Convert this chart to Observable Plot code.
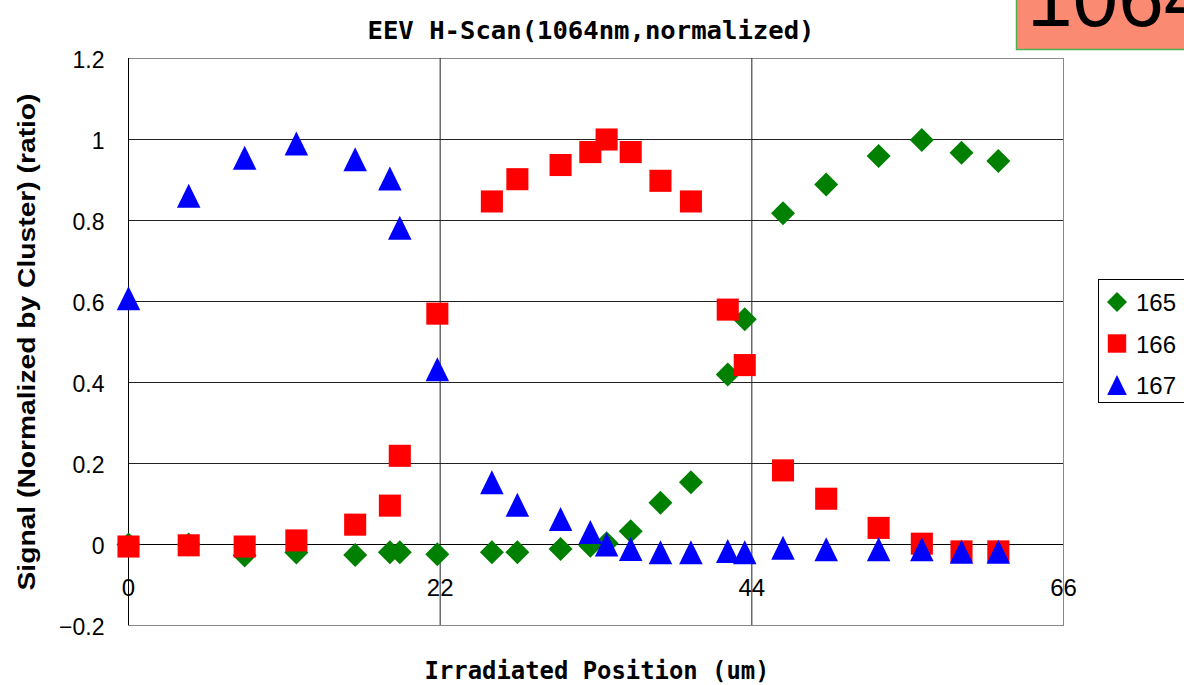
<!DOCTYPE html>
<html><head><meta charset="utf-8">
<script src="https://cdn.jsdelivr.net/npm/d3@7"></script>
<script src="https://cdn.jsdelivr.net/npm/@observablehq/plot@0.6"></script>
<style>
html,body{margin:0;padding:0;background:#fff;}
#wrap{position:relative;width:1184px;height:685px;overflow:hidden;}
</style></head><body><div id="wrap"></div>
<script>
// ---- data ----
const positions = [0, 4.25, 8.2, 11.85, 16.0, 18.45, 19.15, 21.8, 25.65, 27.45, 30.5, 32.6, 33.75, 35.45, 37.55, 39.7, 42.3, 43.5, 46.2, 49.25, 52.95, 56.0, 58.8, 61.4];
const s165 = [0.0, 0.0, -0.027, -0.02, -0.026, -0.019, -0.019, -0.024, -0.019, -0.019, -0.011, -0.003, 0.003, 0.033, 0.103, 0.154, 0.42, 0.556, 0.818, 0.889, 0.959, 0.999, 0.967, 0.947];
const s166 = [-0.005, -0.002, -0.005, 0.010, 0.049, 0.096, 0.219, 0.57, 0.847, 0.902, 0.937, 0.969, 1.0, 0.969, 0.898, 0.847, 0.58, 0.443, 0.183, 0.113, 0.041, 0.002, -0.017, -0.017];
const s167 = [0.608, 0.861, 0.955, 0.99, 0.951, 0.904, 0.782, 0.433, 0.154, 0.098, 0.063, 0.031, 0.0, -0.011, -0.019, -0.019, -0.016, -0.019, -0.008, -0.012, -0.012, -0.012, -0.018, -0.018];
const seriesNames = ["165", "166", "167"];
const seriesColors = ["#008000", "#ff0000", "#0000ff"];
const xTicks = [0, 22, 44, 66];
const yTicks = [-0.2, 0, 0.2, 0.4, 0.6, 0.8, 1, 1.2];
const yTickLabels = ["\u22120.2", "0", "0.2", "0.4", "0.6", "0.8", "1", "1.2"];
const titleText = "EEV H-Scan(1064nm,normalized)";
const xLabel = "Irradiated Position (um)";
const yLabel = "Signal (Normalized by Cluster) (ratio)";
const badgeText = "1064";

// ---- custom marker shapes (Excel-like) ----
const diamond = {draw(ctx, size) {const r = Math.sqrt(size / Math.PI); ctx.moveTo(0, -r); ctx.lineTo(r, 0); ctx.lineTo(0, r); ctx.lineTo(-r, 0); ctx.closePath();}};
const square = {draw(ctx, size) {const r = Math.sqrt(size / Math.PI) * 0.92; ctx.moveTo(-r, -r); ctx.lineTo(r, -r); ctx.lineTo(r, r); ctx.lineTo(-r, r); ctx.closePath();}};
const triangle = {draw(ctx, size) {const r = Math.sqrt(size / Math.PI); ctx.moveTo(0, -r); ctx.lineTo(r * 0.98, r); ctx.lineTo(-r * 0.98, r); ctx.closePath();}};
const shapes = [diamond, square, triangle];
const seriesValues = [s165, s166, s167];

const tables = seriesValues.map((vals, k) => positions.map((x, i) => ({x, y: vals[i], series: seriesNames[k]})));

const plot = Plot.plot({
  width: 1184, height: 685,
  marginLeft: 128, marginRight: 121, marginTop: 58, marginBottom: 60,
  x: {domain: [0, 66], axis: null},
  y: {domain: [-0.2, 1.2]},
  style: {fontFamily: "'Liberation Sans', Arial, sans-serif", fontSize: "23px", color: "#000", background: "#fff", overflow: "visible"},
  marks: [
    Plot.frame({stroke: "#888"}),
    Plot.gridY(yTicks.filter(d => d > -0.2 && d < 1.2 && d !== 0), {stroke: "#222", strokeOpacity: 1}),
    Plot.gridX(xTicks.filter(d => d > 0 && d < 66), {stroke: "#222", strokeOpacity: 1}),
    Plot.ruleY([0], {stroke: "#000"}),
    Plot.ruleX([0], {stroke: "#000"}),
    Plot.axisY(yTicks, {tickSize: 0, tickPadding: 24, dy: 2, fontSize: 23, tickFormat: d => yTickLabels[yTicks.indexOf(d)], label: null}),
    Plot.text(xTicks, {x: d => d, y: d => 0, dy: 44, text: d => String(d), fontSize: 24}),
    ...tables.map((t, k) => Plot.dot(t, {x: "x", y: "y", symbol: shapes[k], fill: seriesColors[k], stroke: "none", r: 12}))
  ]
});
document.getElementById("wrap").appendChild(plot);

// ---- titles, legend, badge ----
const svg = d3.select(plot);
svg.append("text").attr("x", 591).attr("y", 39).attr("text-anchor", "middle")
  .attr("font-family", "'DejaVu Sans Mono', monospace").attr("font-weight", "bold").attr("font-size", 25)
  .attr("textLength", 447).attr("lengthAdjust", "spacingAndGlyphs").attr("fill", "#000").text(titleText);
svg.append("text").attr("x", 597).attr("y", 679).attr("text-anchor", "middle")
  .attr("font-family", "'DejaVu Sans Mono', monospace").attr("font-weight", "bold").attr("font-size", 24)
  .attr("textLength", 345).attr("lengthAdjust", "spacingAndGlyphs").attr("fill", "#000").text(xLabel);
svg.append("text").attr("transform", "translate(35,342) rotate(-90)").attr("text-anchor", "middle")
  .attr("font-family", "'Liberation Sans', Arial, sans-serif").attr("font-weight", "bold").attr("font-size", 24)
  .attr("textLength", 497).attr("lengthAdjust", "spacingAndGlyphs").attr("fill", "#000").text(yLabel);

// legend
const lg = svg.append("g");
lg.append("rect").attr("x", 1098.5).attr("y", 279.5).attr("width", 110).attr("height", 123).attr("fill", "#fff").attr("stroke", "#000");
seriesNames.forEach((name, k) => {
  const cy = 302 + k * 41.5;
  lg.append("path").attr("transform", `translate(1117,${cy})`).attr("d", d3.symbol(shapes[k], Math.PI * 100)()).attr("fill", seriesColors[k]);
  lg.append("text").attr("x", 1136).attr("y", cy + 9).attr("text-anchor", "start").attr("font-family", "'Liberation Sans', Arial, sans-serif").attr("font-size", 24).attr("fill", "#000").text(name);
});

// badge in the top-right corner
svg.append("rect").attr("x", 1016.5).attr("y", -10).attr("width", 200).attr("height", 59.5).attr("fill", "#fb8a72").attr("stroke", "#4cb050").attr("stroke-width", 1.5);
svg.append("text").attr("x", 1027).attr("y", 26).attr("text-anchor", "start").attr("font-family", "'Liberation Sans', Arial, sans-serif").attr("font-size", 82).attr("fill", "#000").text(badgeText);
</script>
</body></html>
